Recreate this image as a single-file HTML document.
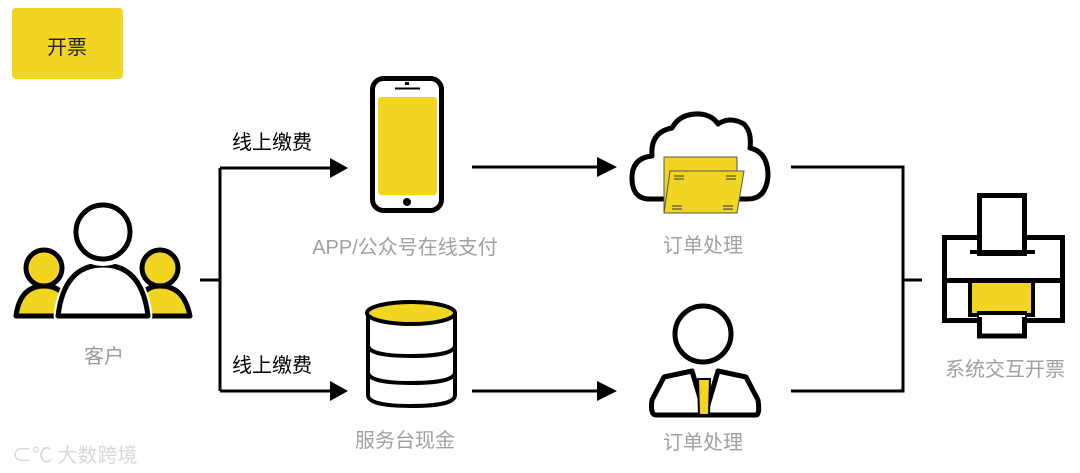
<!DOCTYPE html>
<html><head><meta charset="utf-8"><style>
html,body{margin:0;padding:0;background:#fff;width:1080px;height:473px;overflow:hidden}
svg{display:block}
text{font-family:"Liberation Sans","Noto Sans CJK SC",sans-serif}
</style></head><body>
<svg width="1080" height="473" viewBox="0 0 1080 473" xmlns="http://www.w3.org/2000/svg">
<rect x="12" y="8" width="111" height="71" rx="4" fill="#f2d521"/>
<text x="67" y="54" font-size="20" text-anchor="middle" fill="#222">开票</text>

<!-- customers -->
<g stroke="#000" stroke-width="5" stroke-linejoin="round">
<path d="M16 316 Q20 286 44 286 Q68 286 72 316 Z" fill="#f2d521"/>
<circle cx="44" cy="268" r="18" fill="#f2d521"/>
<path d="M134 316 Q138 286 160 286 Q184 286 190 316 Z" fill="#f2d521"/>
<circle cx="160" cy="268" r="18" fill="#f2d521"/>
<path d="M58 316 Q64 265 103 265 Q142 265 148 316 Z" fill="#fff" stroke-width="9" stroke="#fff"/>
<path d="M58 316 Q64 265 103 265 Q142 265 148 316 Z" fill="#fff"/>
<circle cx="103" cy="232" r="29" fill="#fff" stroke="#fff" stroke-width="10"/>
<circle cx="103" cy="232" r="27" fill="#fff"/>
</g>
<text x="104" y="363" font-size="20" text-anchor="middle" fill="#999">客户</text>

<!-- connectors -->
<g stroke="#000" stroke-width="3" fill="none">
<path d="M200 280 H220"/>
<path d="M220 168 V391"/>
<path d="M220 168 H332"/>
<path d="M220 391 H332"/>
<path d="M472 167 H600"/>
<path d="M472 391 H600"/>
<path d="M791 167 H903 V391 H791"/>
<path d="M903 280 H922"/>
</g>
<g fill="#000">
<polygon points="330,158 348,168 330,178"/>
<polygon points="330,381 348,391 330,401"/>
<polygon points="597,157 617,167 597,177"/>
<polygon points="597,381 617,391 597,401"/>
</g>
<text x="232" y="149" font-size="20" fill="#000">线上缴费</text>
<text x="232" y="372" font-size="20" fill="#000">线上缴费</text>

<!-- phone -->
<rect x="372.5" y="78.5" width="69" height="132" rx="11" fill="#fff" stroke="#000" stroke-width="5"/>
<rect x="378" y="97" width="59" height="98" rx="3" fill="#f2d521"/>
<rect x="395" y="87.5" width="25" height="2" fill="#000"/>
<rect x="405" y="82" width="4" height="3" fill="#000"/>
<circle cx="407" cy="202" r="4" fill="#000"/>
<text x="405" y="254" font-size="20" text-anchor="middle" fill="#a0a0a0">APP/公众号在线支付</text>

<!-- database -->
<g stroke="#000" stroke-width="4">
<path d="M368 312 V395 Q368 406 411 406 Q455 406 455 395 V312" fill="#fff"/>
<path d="M368 345 Q368 356 411 356 Q455 356 455 345 M368 372 Q368 383 411 383 Q455 383 455 372" fill="none"/>
<ellipse cx="411" cy="313" rx="44" ry="11" fill="#f2d521"/>
</g>
<text x="405" y="447" font-size="20" text-anchor="middle" fill="#a0a0a0">服务台现金</text>

<!-- cloud -->
<path d="M650 199 Q632 199 632 178 Q632 158 652 156 Q650 132 672 128 Q680 113 700 114 Q712 115 718 124 Q730 116 744 124 Q752 132 750 148 Q768 152 768 176 Q766 199 748 199 Z" fill="#fff" stroke="#000" stroke-width="5" stroke-linejoin="round"/>
<rect x="664" y="157" width="73" height="56" fill="#f2d521" stroke="#555" stroke-width="1"/>
<polygon points="670,171 744,171 737,213 664,213" fill="#f2d521" stroke="#555" stroke-width="1"/>
<g stroke="#333" stroke-width="1">
<path d="M674 176h10M674 179h10M726 176h10M726 179h10M672 206h10M672 209h10M723 206h10M723 209h10"/>
</g>
<text x="703" y="252" font-size="20" text-anchor="middle" fill="#a0a0a0">订单处理</text>

<!-- businessman -->
<g stroke="#000" stroke-width="5" stroke-linejoin="round" fill="#fff">
<path d="M664 377 L652 400 Q650 415 656 415 L756 415 Q760 415 758 400 L746 377 L718 371 L705 415 L692 371 Z"/>
<circle cx="703" cy="334" r="28"/>
</g>
<polygon points="698,379 710,379 709,415 699,415" fill="#f2d521" stroke="#000" stroke-width="2"/>
<text x="703" y="449" font-size="20" text-anchor="middle" fill="#a0a0a0">订单处理</text>

<!-- printer -->
<g stroke="#000" stroke-width="5" fill="#fff">
<rect x="944.5" y="237.5" width="118" height="83"/>
<rect x="979.5" y="195.5" width="45" height="58"/>
<rect x="979.5" y="313" width="45" height="23"/>
</g>
<rect x="970" y="250" width="65" height="4" fill="#000"/>
<rect x="944" y="278" width="120" height="5" fill="#000"/>
<rect x="970" y="281" width="63" height="34" fill="#f2d521" stroke="#000" stroke-width="4"/>
<rect x="979" y="311" width="46" height="6" fill="#fff"/>
<path d="M977 313 H1027" stroke="#000" stroke-width="4"/>
<text x="1005" y="376" font-size="20" text-anchor="middle" fill="#a0a0a0">系统交互开票</text>

<!-- watermark -->
<text x="12" y="462" font-size="20" fill="#d8d8d8">⊂℃ 大数跨境</text>
</svg>
</body></html>
